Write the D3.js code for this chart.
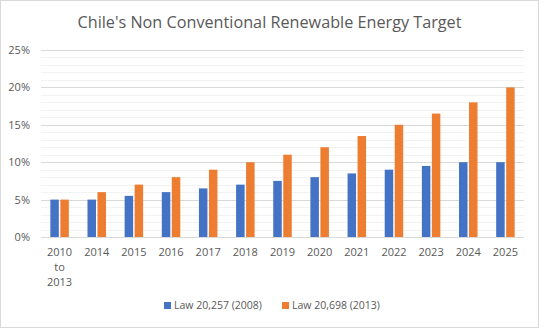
<!DOCTYPE html>
<html>
<head>
<meta charset="utf-8">
<script src="https://cdn.jsdelivr.net/npm/d3@7"></script>
<style>
  body { margin: 0; background: #fff; }
  text { font-family: "Open Sans", "Liberation Sans", sans-serif; fill: #595959; }
</style>
</head>
<body>
<svg id="chart" width="539" height="328"></svg>
<script>
// data
const categories = ["2010 to 2013", "2014", "2015", "2016", "2017", "2018", "2019", "2020", "2021", "2022", "2023", "2024", "2025"];
const law2008 = [5, 5, 5.5, 6, 6.5, 7, 7.5, 8, 8.5, 9, 9.5, 10, 10];
const law2013 = [5, 6, 7, 8, 9, 10, 11, 12, 13.5, 15, 16.5, 18, 20];
const seriesNames = ["Law 20,257 (2008)", "Law 20,698 (2013)"];
const colours = ["#4472C4", "#ED7D31"];
const yTicks = [0, 5, 10, 15, 20, 25];

const svg = d3.select("#chart");
const width = 539, height = 328;
const margin = {left: 41, right: 15, top: 50, bottom: 91};

svg.append("rect")
  .attr("x", 0.5).attr("y", 0.5)
  .attr("width", width - 1).attr("height", height - 1)
  .attr("fill", "#fff").attr("stroke", "#d9d9d9");

svg.append("text")
  .attr("x", width / 2).attr("y", 28)
  .attr("text-anchor", "middle")
  .attr("font-size", 17)
  .attr("textLength", 384)
  .attr("lengthAdjust", "spacingAndGlyphs")
  .text("Chile's Non Conventional Renewable Energy Target");

let x = d3.scaleBand()
  .domain(categories)
  .range([margin.left, width - margin.right]);

let y = d3.scaleLinear()
  .domain([0, 25])
  .range([height - margin.bottom, margin.top]);

// minor gridlines every 1%
svg.append("g").selectAll("line")
  .data(d3.range(1, 25).filter(d => d % 5 !== 0))
  .enter().append("line")
    .attr("x1", margin.left).attr("x2", width - margin.right)
    .attr("y1", d => Math.round(y(d)) + 0.5).attr("y2", d => Math.round(y(d)) + 0.5)
    .attr("stroke", "#f2f2f2");

// major gridlines
svg.append("g").selectAll("line")
  .data(yTicks)
  .enter().append("line")
    .attr("x1", margin.left).attr("x2", width - margin.right)
    .attr("y1", d => Math.round(y(d)) + 0.5).attr("y2", d => Math.round(y(d)) + 0.5)
    .attr("stroke", "#d9d9d9");

svg.append("g").selectAll("text")
  .data(yTicks)
  .enter().append("text")
    .attr("x", 30).attr("y", d => y(d) + 4)
    .attr("text-anchor", "end")
    .attr("font-size", 11)
    .text(d => d + "%");

let barW = 8.5, gap = 1.5;
let series = [law2008, law2013];
series.forEach(function(vals, i){
  svg.append("g").selectAll("rect")
    .data(vals)
    .enter().append("rect")
      .attr("x", (d, j) => x(categories[j]) + x.bandwidth() / 2 + (i === 0 ? -barW - gap / 2 : gap / 2))
      .attr("y", d => y(d))
      .attr("width", barW)
      .attr("height", d => y(0) - y(d))
      .attr("fill", colours[i]);
});

// x labels, first one wraps over three lines
let xl = svg.append("g").selectAll("text")
  .data(categories)
  .enter().append("text")
    .attr("x", d => x(d) + x.bandwidth() / 2)
    .attr("y", 256)
    .attr("text-anchor", "middle")
    .attr("font-size", 11);
xl.each(function(d){
  let parts = d === "2010 to 2013" ? ["2010", "to", "2013"] : [d];
  let t = d3.select(this);
  parts.forEach((p, k) => {
    t.append("tspan").attr("x", x(d) + x.bandwidth() / 2).attr("dy", k === 0 ? 0 : 15).text(p);
  });
});

// legend
let legend = svg.append("g").attr("transform", "translate(164,308)");
let legX = [0, 118];
seriesNames.forEach(function(name, i){
  legend.append("rect")
    .attr("x", legX[i]).attr("y", -6)
    .attr("width", 7).attr("height", 7)
    .attr("fill", colours[i]);
  legend.append("text")
    .attr("x", legX[i] + 10).attr("y", 1)
    .attr("font-size", 10.5)
    .text(name);
});
</script>
</body>
</html>
